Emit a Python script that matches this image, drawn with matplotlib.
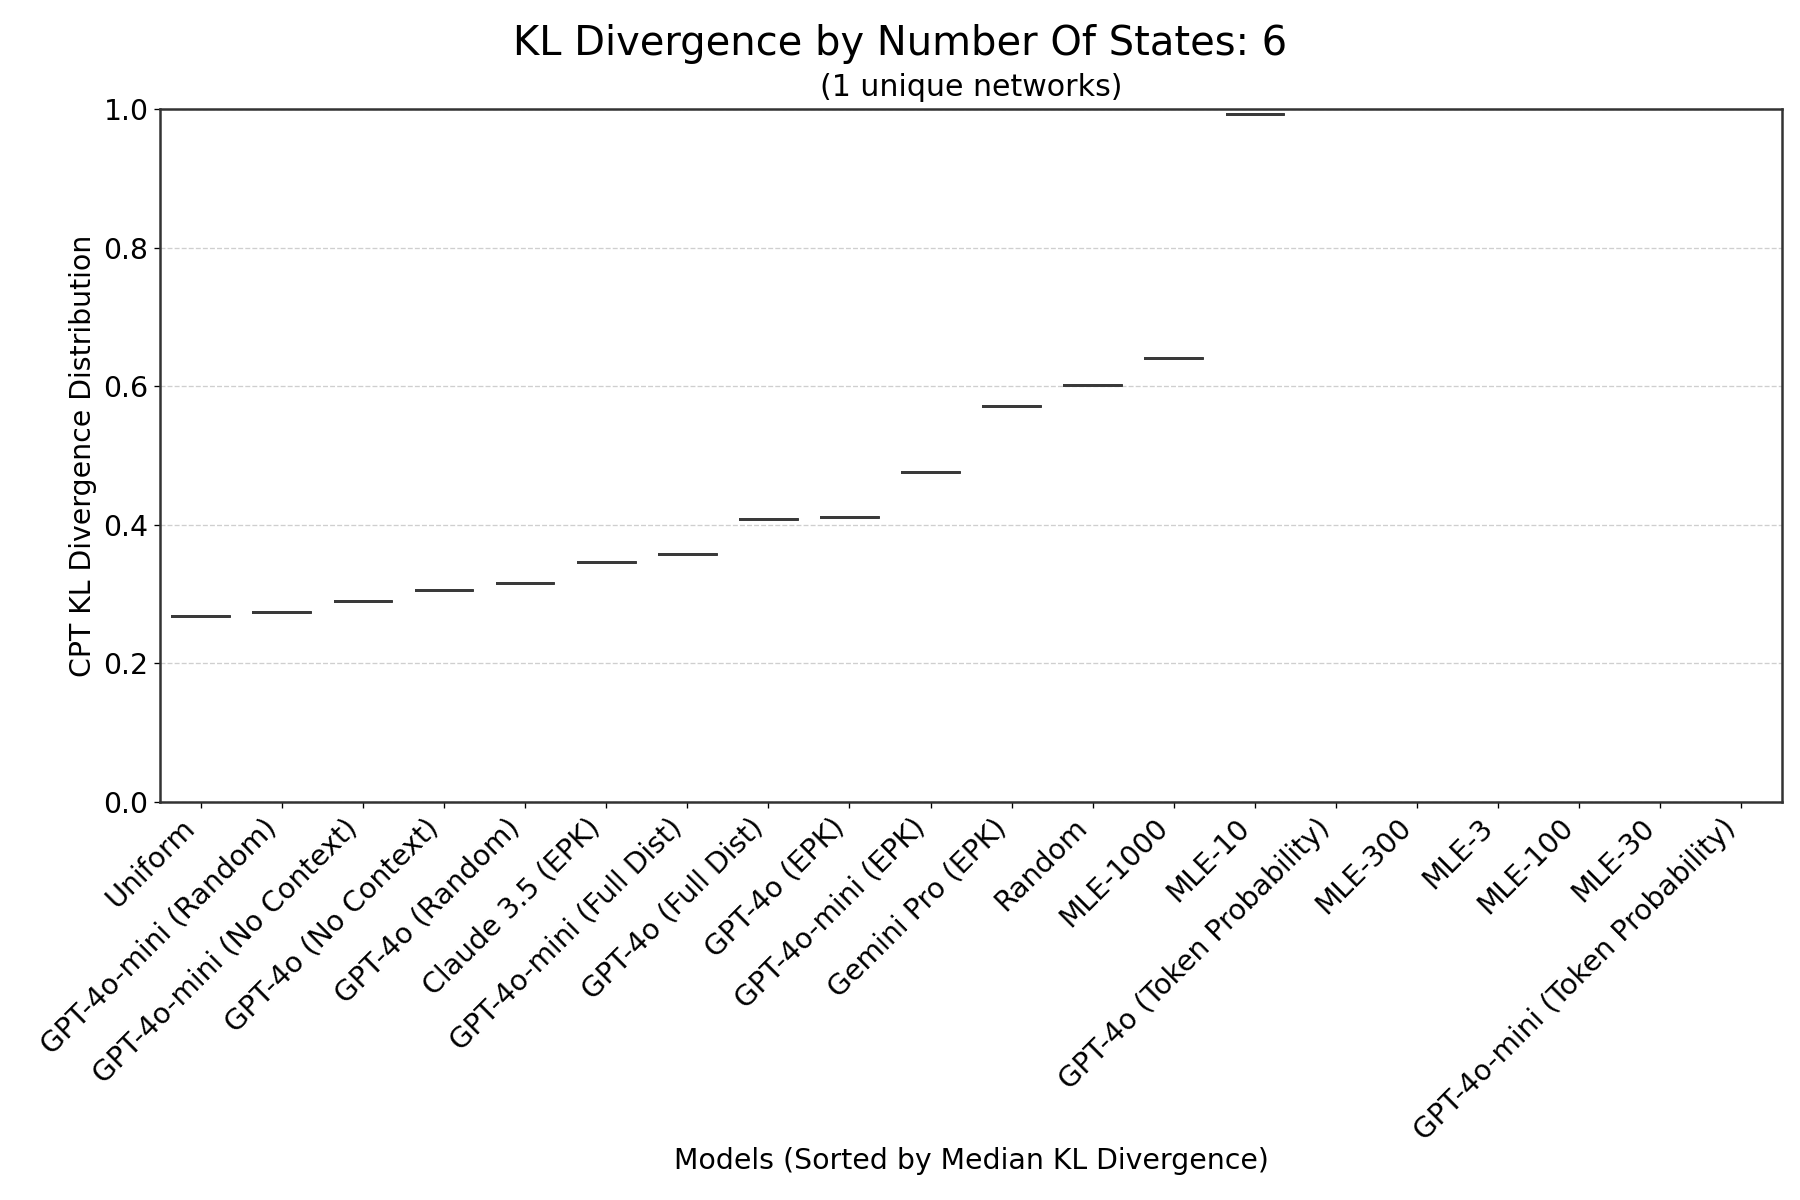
import numpy as np
import matplotlib.pyplot as plt

# models sorted by median KL divergence (one network -> one value each)
models = ["Uniform", "GPT-4o-mini (Random)", "GPT-4o-mini (No Context)",
          "GPT-4o (No Context)", "GPT-4o (Random)", "Claude 3.5 (EPK)",
          "GPT-4o-mini (Full Dist)", "GPT-4o (Full Dist)", "GPT-4o (EPK)",
          "GPT-4o-mini (EPK)", "Gemini Pro (EPK)", "Random", "MLE-1000",
          "MLE-10", "GPT-4o (Token Probability)", "MLE-300", "MLE-3",
          "MLE-100", "MLE-30", "GPT-4o-mini (Token Probability)"]
kl_values = [0.268, 0.274, 0.290, 0.306, 0.316, 0.346, 0.358, 0.408, 0.411,
             0.476, 0.571, 0.601, 0.641, 0.993, 1.3, 1.6, 1.9, 2.3, 2.8, 3.5]

plt.rcParams['font.family'] = 'DejaVu Sans'
fig, ax = plt.subplots(figsize=(15, 10), dpi=120)

pos = np.arange(len(models))
lc = "#3a3a3a"
lw = 1.8
ax.boxplot([[v] for v in kl_values], positions=pos, widths=0.7,
           showfliers=False, showcaps=False,
           boxprops=dict(color=lc, linewidth=lw),
           medianprops=dict(color=lc, linewidth=lw),
           whiskerprops=dict(color=lc, linewidth=lw))

ax.set_xlim(-0.5, len(models) - 0.5)
ax.set_ylim(0, 1.0)
ax.set_xticks(pos)
ax.set_xticklabels(models, rotation=45, ha="right", fontsize=17)
ax.tick_params(axis="y", labelsize=17)
ax.set_yticks([0.0, 0.2, 0.4, 0.6, 0.8, 1.0])
ax.grid(axis="y", linestyle="--", alpha=0.7, color="#bbbbbb")
ax.set_axisbelow(True)
for s in ax.spines.values():
    s.set_color("#333333")
    s.set_linewidth(1.5)

ax.set_xlabel("Models (Sorted by Median KL Divergence)", fontsize=17, labelpad=1)
ax.set_ylabel("CPT KL Divergence Distribution", fontsize=17)
ax.set_title("(1 unique networks)", fontsize=18, pad=8)
fig.suptitle("KL Divergence by Number Of States: 6", fontsize=24, y=0.98)

plt.subplots_adjust(left=0.089, right=0.99, top=0.909, bottom=0.332)
plt.savefig("out.png")
